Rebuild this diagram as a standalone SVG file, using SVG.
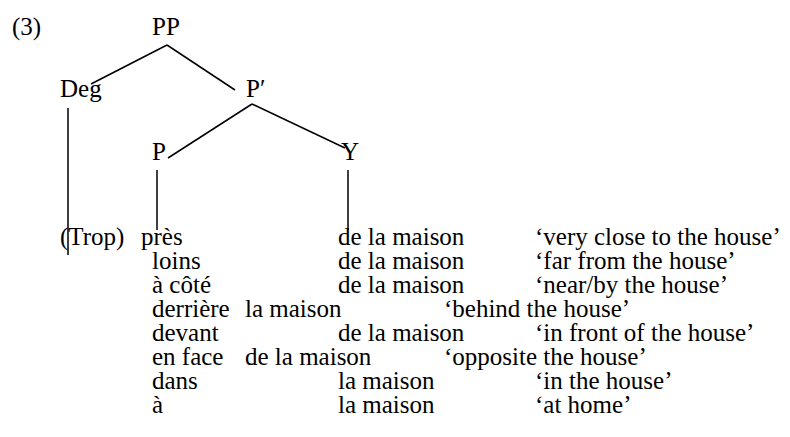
<svg xmlns="http://www.w3.org/2000/svg" width="790" height="437" viewBox="0 0 790 437">
<style>
text{font-family:"Liberation Serif","Times New Roman",serif;font-size:25px;fill:#000}
line{stroke:#000;stroke-width:1.5}
</style>
<rect width="790" height="437" fill="#fff"/>
<text x="12" y="35">(3)</text>
<g id="PP"><text x="152" y="35">PP</text></g>
<g id="Deg"><text x="60" y="97">Deg</text></g>
<g id="Pbar"><text x="246" y="97">P′</text></g>
<g id="P"><text x="152" y="160">P</text></g>
<g id="Y"><text x="341" y="160">Y</text></g>
<g id="connectors">
<line x1="167" y1="45" x2="91" y2="84"/>
<line x1="167" y1="45" x2="235" y2="90"/>
<line x1="252" y1="104" x2="168" y2="158"/>
<line x1="252" y1="104" x2="345" y2="148"/>
<line x1="68" y1="108" x2="68" y2="255"/>
<line x1="157" y1="170" x2="157" y2="230"/>
<line x1="348" y1="170" x2="348" y2="230"/>
</g>
<g id="rows">
<text x="60" y="245">(Trop)</text><text x="141" y="245">près</text><text x="338" y="245">de la maison</text><text x="535" y="245">‘very close to the house’</text>
<text x="152" y="269">loins</text><text x="338" y="269">de la maison</text><text x="535" y="269">‘far from the house’</text>
<text x="152" y="293">à côté</text><text x="338" y="293">de la maison</text><text x="535" y="293">‘near/by the house’</text>
<text x="152" y="317">derrière</text><text x="245" y="317">la maison</text><text x="444" y="317">‘behind the house’</text>
<text x="152" y="341">devant</text><text x="338" y="341">de la maison</text><text x="535" y="341">‘in front of the house’</text>
<text x="152" y="365">en face</text><text x="245" y="365">de la maison</text><text x="444" y="365">‘opposite the house’</text>
<text x="152" y="389">dans</text><text x="338" y="389">la maison</text><text x="535" y="389">‘in the house’</text>
<text x="152" y="413">à</text><text x="338" y="413">la maison</text><text x="535" y="413">‘at home’</text>
</g>
</svg>
